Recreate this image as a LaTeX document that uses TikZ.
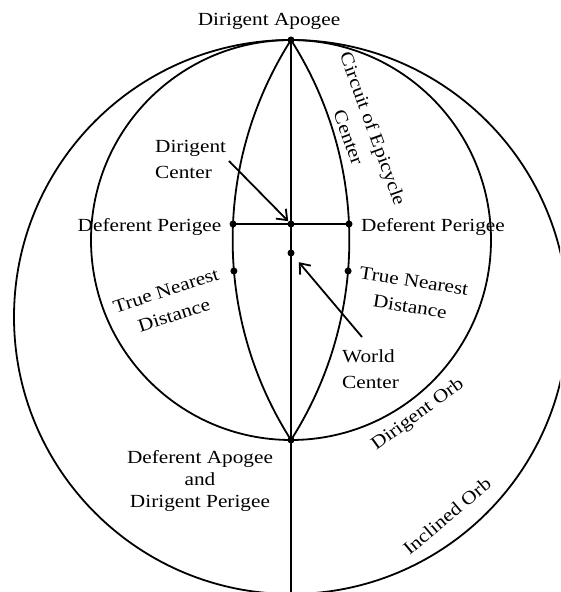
\documentclass[tikz,border=0pt]{standalone}
\usepackage{fontspec}
\setmainfont{Liberation Serif}[FakeStretch=1.15]
\usetikzlibrary{arrows.meta}
\begin{document}
\begin{tikzpicture}[x=1pt,y=1pt,
  orb/.style={line width=1.8pt},
  lbl/.style={font=\fontsize{18.5}{26}\selectfont, inner sep=0pt},
  dotpt/.style={circle, fill=black, inner sep=0pt, minimum size=7pt},
  ptr/.style={line width=1.8pt, -{Straight Barb[length=9pt,width=14pt,line width=1.8pt]}}]
\useasboundingbox (0,0) rectangle (560,592);
\clip (0,0) rectangle (560,592);
\coordinate (A) at (291,552);
\coordinate (B) at (291,152);
\coordinate (Bot) at (291,-2);
\coordinate (D) at (291,368);
\coordinate (W) at (291,339);
\coordinate (PL) at (233,368);
\coordinate (PR) at (349,368);
\coordinate (TL) at (233.9,321);
\coordinate (TR) at (348.1,321);
% orbs
\draw[orb] (291,275) circle[radius=277];
\draw[orb] (291,352) circle[radius=200];
% circuit of epicycle center (lens)
\draw[orb] (A) arc[start angle=147.47, end angle=212.53, radius=371.95];
\draw[orb] (A) arc[start angle=32.53, end angle=-32.53, radius=371.95];
% lines
\draw[orb] (A) -- (Bot);
\draw[orb] (PL) -- (PR);
% dots
\node[dotpt] (dA) at (A) {};
\node[dotpt] (dB) at (B) {};
\node[dotpt] (dD) at (D) {};
\node[dotpt] (dW) at (W) {};
\node[dotpt] (dPL) at (PL) {};
\node[dotpt] (dPR) at (PR) {};
\node[dotpt] (dTL) at (TL) {};
\node[dotpt] (dTR) at (TR) {};
% labels
\node[lbl, anchor=base] (apo) at (269,566) {Dirigent Apogee};
\node[lbl, anchor=base] (dpl) at (149.5,360) {Deferent Perigee};
\node[lbl, anchor=base] (dpr) at (433,360) {Deferent Perigee};
\node[lbl, align=left, anchor=west] (dc) at (155,433) {Dirigent\\Center};
\node[lbl, align=left, anchor=west] (wc) at (342,223) {World\\Center};
\node[lbl, align=center, font=\fontsize{18.5}{22}\selectfont] (dadp) at (200,111) {Deferent Apogee\\and\\Dirigent Perigee};
\node[lbl, align=center, rotate=-70] (circ) at (361,459) {Circuit of Epicycle\\Center};
\node[lbl, align=center, rotate=18] (tnl) at (170,289) {True Nearest\\Distance};
\node[lbl, align=center, rotate=-9] (tnr) at (412,298) {True Nearest\\Distance};
\node[lbl, rotate=36] (dorb) at (418,177) {Dirigent Orb};
\node[lbl, rotate=40] (iorb) at (447,76) {Inclined Orb};
% arrows
\coordinate (dcs) at (229,431);
\coordinate (wcs) at (362,255);
\draw[ptr, shorten >=4pt] (dcs) -- (dD.center);
\draw[ptr, shorten >=12pt] (wcs) -- (dW.center);
\end{tikzpicture}
\end{document}
